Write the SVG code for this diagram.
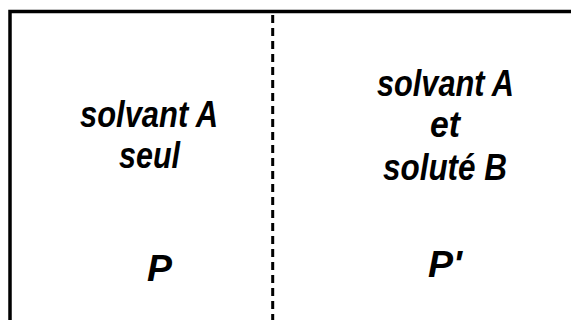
<svg xmlns="http://www.w3.org/2000/svg" width="571" height="320" viewBox="0 0 571 320">
<style>
.t{font-family:"Liberation Sans",Arial,sans-serif;font-style:italic;font-weight:bold;font-size:36px;fill:#000;text-anchor:middle}
</style>
<rect width="571" height="320" fill="#fff"/>
<g id="frame"><path d="M10,325 V11.5 H580" fill="none" stroke="#000" stroke-width="3.5"/></g>
<g id="connectors"><line x1="272.7" y1="15" x2="272.7" y2="320" stroke="#000" stroke-width="3" stroke-dasharray="8,5"/></g>
<g id="left">
<text class="t" x="149" y="127" textLength="138" lengthAdjust="spacingAndGlyphs">solvant A</text>
<text class="t" x="149.5" y="168" textLength="61" lengthAdjust="spacingAndGlyphs">seul</text>
<text class="t" x="159.5" y="281" textLength="25" lengthAdjust="spacingAndGlyphs">P</text>
</g>
<g id="right">
<text class="t" x="445.5" y="96" textLength="137" lengthAdjust="spacingAndGlyphs">solvant A</text>
<text class="t" x="445" y="137" textLength="30" lengthAdjust="spacingAndGlyphs">et</text>
<text class="t" x="445" y="180" textLength="124" lengthAdjust="spacingAndGlyphs">soluté B</text>
<text class="t" x="445" y="277" textLength="34" lengthAdjust="spacingAndGlyphs">P'</text>
</g>
</svg>
